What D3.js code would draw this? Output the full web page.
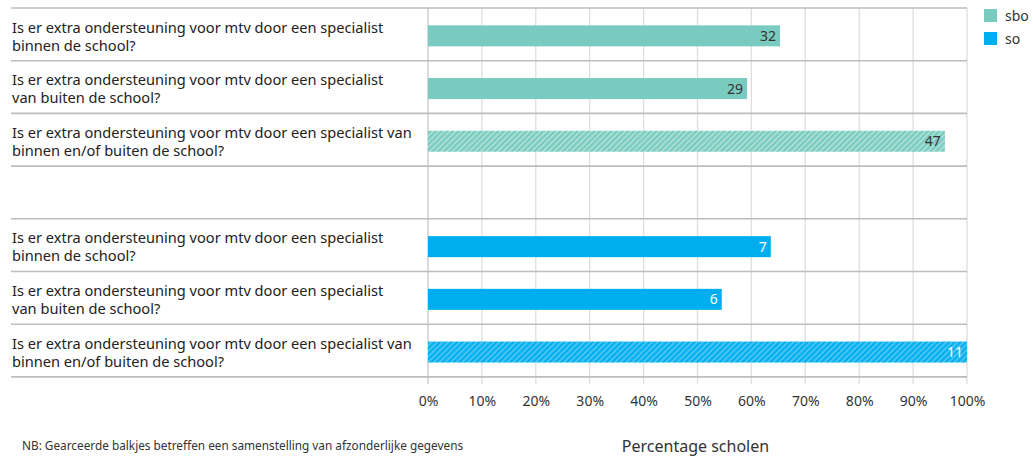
<!DOCTYPE html>
<html lang="nl">
<head>
<meta charset="utf-8">
<title>Extra ondersteuning mtv</title>
<script src="https://cdn.jsdelivr.net/npm/d3@7"></script>
<style>
body{margin:0;background:#fff;}
svg{display:block;font-family:"Noto Sans",sans-serif;}
</style>
</head>
<body>
<div id="chart"></div>
<script>
// data
var questions = [
  ["Is er extra ondersteuning voor mtv door een specialist", "binnen de school?"],
  ["Is er extra ondersteuning voor mtv door een specialist", "van buiten de school?"],
  ["Is er extra ondersteuning voor mtv door een specialist van", "binnen en/of buiten de school?"]
];
var groups = ["sbo", "so"];
var sboPct = [65.3, 59.2, 95.9];
var sboCount = [32, 29, 47];
var soPct = [63.6, 54.5, 100];
var soCount = [7, 6, 11];
var hatched = [false, false, true];
var xTicks = [0, 10, 20, 30, 40, 50, 60, 70, 80, 90, 100];

var width = 1033, height = 457;
var left = 428, right = 967, marginTop = 8, rowH = 52.7;

var svg = d3.select("#chart").append("svg")
  .attr("width", width)
  .attr("height", height);

var colors = {sbo: "#79cbbf", so: "#00aeef"};
var light = {sbo: "#a6ddd4", so: "#45c4f3"};

// hatch patterns
var defs = svg.append("defs");
groups.forEach(function(g){
  var p = defs.append("pattern")
    .attr("id", "hatch-" + g)
    .attr("patternUnits", "userSpaceOnUse")
    .attr("width", 4).attr("height", 4)
    .attr("patternTransform", "rotate(45)");
  p.append("rect").attr("width", 4).attr("height", 4).attr("fill", light[g]);
  p.append("rect").attr("width", 2).attr("height", 4).attr("fill", colors[g]);
});

// rows: 3 sbo, 1 empty, 3 so
var rows = [];
sboPct.forEach(function(v, i){ rows.push({g: "sbo", q: questions[i], v: v, n: sboCount[i], h: hatched[i]}); });
rows.push(null);
soPct.forEach(function(v, i){ rows.push({g: "so", q: questions[i], v: v, n: soCount[i], h: hatched[i]}); });

var x = d3.scaleLinear().domain([0, 100]).range([left, right]);
var y = d3.scaleBand().domain(d3.range(rows.length)).range([marginTop, marginTop + rowH * rows.length]);

// vertical gridlines
svg.append("g").selectAll("line").data(xTicks).enter().append("line")
  .attr("x1", function(d){ return x(d); })
  .attr("x2", function(d){ return x(d); })
  .attr("y1", marginTop)
  .attr("y2", y.range()[1] + 7)
  .attr("stroke", function(d){ return d == 0 ? "#c8c8c8" : "#dedede"; })
  .attr("stroke-width", 1.3);

// row separators
var seps = d3.range(rows.length + 1);
svg.append("g").selectAll("line").data(seps).enter().append("line")
  .attr("x1", 11)
  .attr("x2", right)
  .attr("y1", function(d){ return marginTop + d * y.step(); })
  .attr("y2", function(d){ return marginTop + d * y.step(); })
  .attr("stroke", "#bdbdbd")
  .attr("stroke-width", 1.6);

var filled = rows.map(function(r, i){ return r ? {r: r, i: i} : null; }).filter(Boolean);

// bars
var barH = 21;
svg.append("g").selectAll("rect").data(filled).enter().append("rect")
  .attr("x", x(0))
  .attr("y", function(d){ return y(d.i) + y.bandwidth() / 2 - barH / 2 + 1.5; })
  .attr("width", function(d){ return x(d.r.v) - x(0); })
  .attr("height", barH)
  .attr("fill", function(d){ return d.r.h ? "url(#hatch-" + d.r.g + ")" : colors[d.r.g]; });

// value labels
svg.append("g").selectAll("text").data(filled).enter().append("text")
  .attr("x", function(d){ return x(d.r.v) - 4; })
  .attr("y", function(d){ return y(d.i) + y.bandwidth() / 2 + 6.5; })
  .attr("text-anchor", "end")
  .attr("font-size", 14)
  .attr("fill", function(d){ return d.r.g == "so" ? "#fff" : "#333"; })
  .text(function(d){ return d.r.n; });

// question labels
var lab = svg.append("g").selectAll("text").data(filled).enter().append("text")
  .attr("x", 12)
  .attr("y", function(d){ return y(d.i) + 24.5; })
  .attr("font-size", 14.6)
  .attr("fill", "#222");
lab.selectAll("tspan").data(function(d){ return d.r.q; }).enter().append("tspan")
  .attr("x", 12)
  .attr("dy", function(d, i){ return i == 0 ? 0 : 18; })
  .text(function(d){ return d; });

// x axis
var axis = svg.append("g")
  .attr("transform", "translate(0," + (y.range()[1] + 7) + ")")
  .call(d3.axisBottom(x).tickValues(xTicks).tickSize(0).tickPadding(12)
    .tickFormat(function(d){ return d + "%"; }));
axis.select(".domain").remove();
axis.selectAll("text").attr("font-size", 14).attr("fill", "#333")
  .attr("font-family", "\"Noto Sans\",sans-serif");

svg.append("text")
  .attr("x", (left + right) / 2 - 2)
  .attr("y", 452)
  .attr("text-anchor", "middle")
  .attr("font-size", 16)
  .attr("fill", "#333")
  .text("Percentage scholen");

svg.append("text")
  .attr("x", 22)
  .attr("y", 450)
  .attr("font-size", 11.8)
  .attr("fill", "#333")
  .text("NB: Gearceerde balkjes betreffen een samenstelling van afzonderlijke gegevens");

// legend
var leg = svg.append("g").selectAll("g").data(groups).enter().append("g")
  .attr("transform", function(d, i){ return "translate(984," + (9 + i * 23) + ")"; });
leg.append("rect").attr("width", 13).attr("height", 13)
  .attr("fill", function(d){ return colors[d]; });
leg.append("text").attr("x", 21).attr("y", 11.5)
  .attr("font-size", 14).attr("fill", "#333")
  .text(function(d){ return d; });
</script>
</body>
</html>
